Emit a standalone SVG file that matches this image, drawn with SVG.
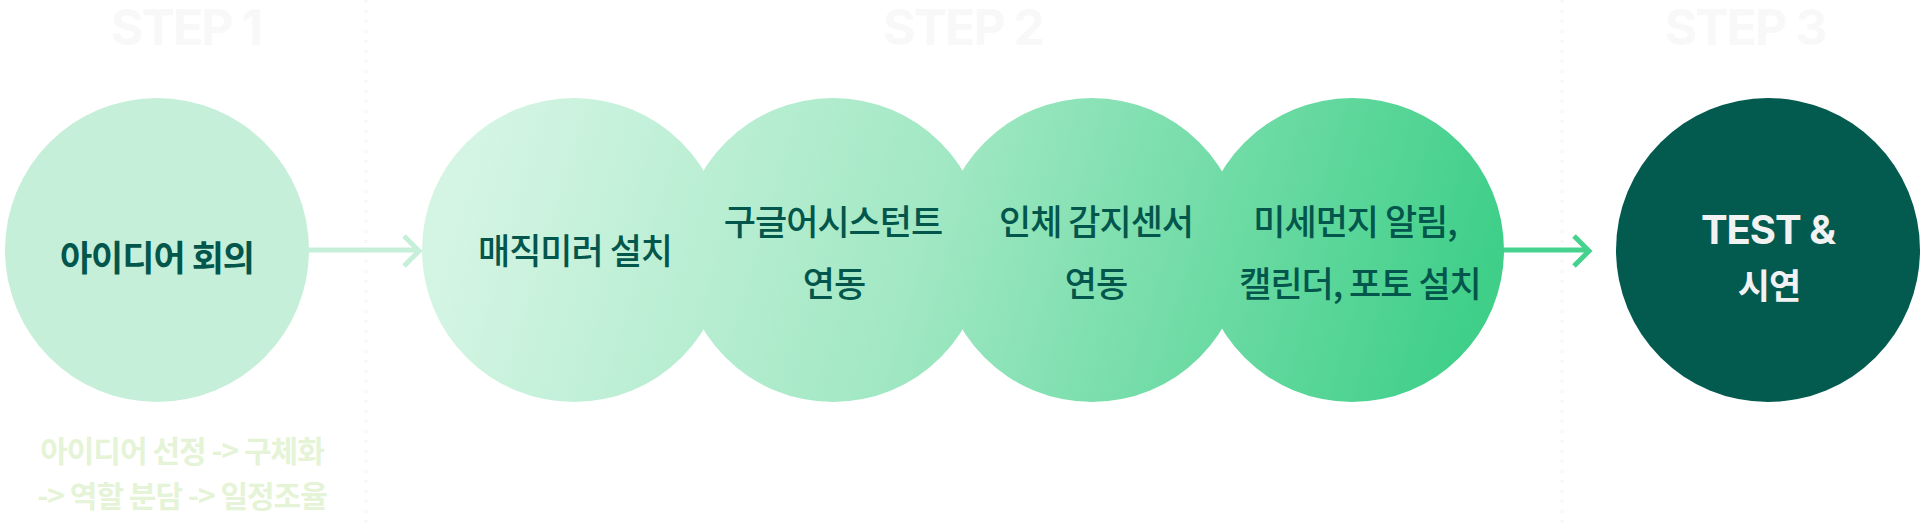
<svg xmlns="http://www.w3.org/2000/svg" width="1920" height="524" viewBox="0 0 1920 524">
  <defs>
    <linearGradient id="grad" gradientUnits="userSpaceOnUse" x1="480" y1="110" x2="1450" y2="400">
      <stop offset="0" stop-color="#D5F5E4"/>
      <stop offset="0.45" stop-color="#A2E8C4"/>
      <stop offset="1" stop-color="#3FCF89"/>
    </linearGradient>
    <style>
      .step { font-family: Inter, "Liberation Sans", sans-serif; font-weight: 700; font-size: 50px; fill: #F8F8F8; letter-spacing: -2px; text-anchor: middle; }
      .divider { stroke: #F7F7F7; stroke-width: 3; stroke-dasharray: 3 7; fill: none; }
      .lbl { font-family: "Noto Sans CJK KR", "Noto Sans", sans-serif; font-size: 35px; fill: #03564B; letter-spacing: -1px; text-anchor: middle; font-weight: 500; }
      .bold { font-weight: 700; }
      .sub { font-family: "Noto Sans CJK KR", "Noto Sans", sans-serif; font-size: 30px; fill: #E5F3D6; letter-spacing: -1px; text-anchor: middle; font-weight: 700; }
      .white { fill: #F2F2F2; font-weight: 700; text-anchor: middle; }
      .arrow { fill: none; stroke-width: 5; }
    </style>
  </defs>

  <g id="headers">
    <text class="step" x="186" y="45">STEP 1</text>
    <text class="step" x="963" y="45">STEP 2</text>
    <text class="step" x="1745" y="45">STEP 3</text>
    <line class="divider" x1="366" y1="0" x2="366" y2="524"/>
    <line class="divider" x1="1562" y1="0" x2="1562" y2="524"/>
  </g>

  <g id="connectors">
    <g class="arrow" stroke="#C6EFDA">
      <line x1="305" y1="250" x2="419" y2="250"/>
      <polyline points="404,236 419,251 404,266"/>
    </g>
    <g class="arrow" stroke="#44D28E">
      <line x1="1500" y1="250" x2="1589" y2="250"/>
      <polyline points="1574,236 1589,251 1574,266"/>
    </g>
  </g>

  <g id="node-idea">
    <circle cx="157" cy="250" r="152" fill="#C6EFDA"/>
    <text class="lbl bold" x="157" y="271">아이디어 회의</text>
  </g>
  <g id="node-idea-sub">
    <text class="sub" x="182" y="462">아이디어 선정 -&gt; 구체화</text>
    <text class="sub" x="182" y="507">-&gt; 역할 분담 -&gt; 일정조율</text>
  </g>

  <g id="step2-circles">
    <g id="node-mirror">
      <circle cx="574" cy="250" r="152" fill="url(#grad)"/>
    </g>
    <g id="node-google">
      <circle cx="833" cy="250" r="152" fill="url(#grad)"/>
    </g>
    <g id="node-sensor">
      <circle cx="1092" cy="250" r="152" fill="url(#grad)"/>
    </g>
    <g id="node-dust">
      <circle cx="1352" cy="250" r="152" fill="url(#grad)"/>
    </g>
  </g>
  <g id="step2-labels">
    <text class="lbl" x="575" y="264">매직미러 설치</text>
    <text class="lbl" x="833" y="235">구글어시스턴트</text>
    <text class="lbl" x="834" y="297">연동</text>
    <text class="lbl" x="1096" y="235">인체 감지센서</text>
    <text class="lbl" x="1096" y="297">연동</text>
    <text class="lbl" x="1355" y="235">미세먼지 알림,</text>
    <text class="lbl" x="1360" y="297">캘린더, 포토 설치</text>
  </g>

  <g id="node-test">
    <circle cx="1768" cy="250" r="152" fill="#035B50"/>
    <text class="white" x="1768" y="244" font-family="Inter, 'Liberation Sans', sans-serif" font-size="40" letter-spacing="-1">TEST &amp;</text>
    <text class="white" x="1769" y="299" font-family="'Noto Sans CJK KR', sans-serif" font-size="35" letter-spacing="-1">시연</text>
  </g>
</svg>
